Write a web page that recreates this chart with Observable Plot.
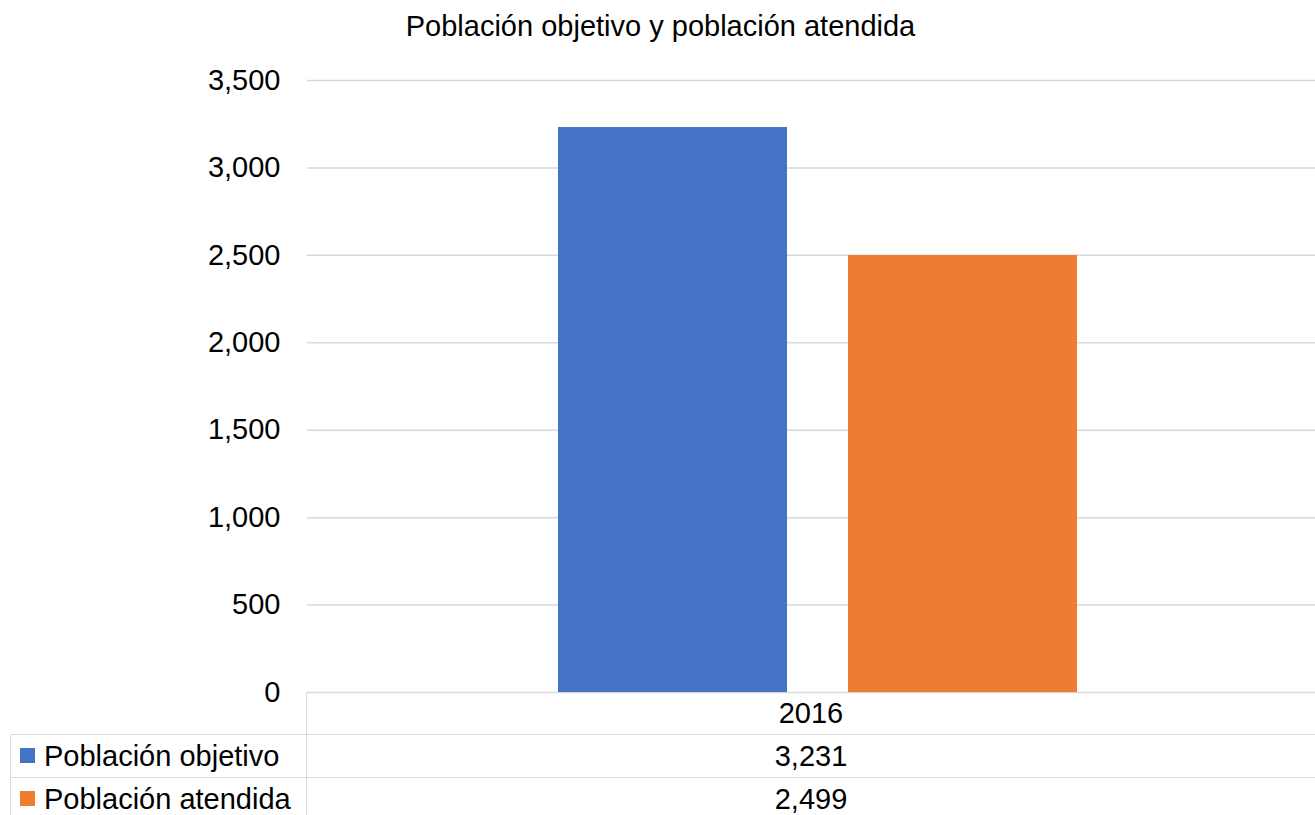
<!DOCTYPE html>
<html>
<head>
<meta charset="utf-8">
<script src="https://cdn.jsdelivr.net/npm/d3@7"></script>
<script src="https://cdn.jsdelivr.net/npm/@observablehq/plot@0.6"></script>
<style>
  html, body { margin: 0; padding: 0; background: #fff; }
  #wrap { position: relative; width: 1315px; height: 815px; overflow: hidden; font-family: "Liberation Sans", Arial, sans-serif; }
  #title { position: relative; height: 60px; }
  #title span { position: absolute; left: 0; width: 1321px; top: 12px; text-align: center; font-size: 29px; line-height: 29px; color: #000; }
  .row { position: absolute; height: 43px; line-height: 43px; font-size: 29px; color: #000; white-space: nowrap; }
  .hline { position: absolute; height: 0; border-top: 1.5px solid #d9d9d9; }
  .vline { position: absolute; width: 0; border-left: 1.5px solid #d9d9d9; }
  .key { position: absolute; width: 15px; height: 15px; }
</style>
</head>
<body>
<div id="wrap">
  <div id="title"><span>Población objetivo y población atendida</span></div>
  <div id="chart"></div>
</div>
<script>
// ---- data ----
const years = ["2016"];
const series = ["Población objetivo", "Población atendida"];
const values2016 = [3231, 2499];
const colors = ["#4472C4", "#ED7D31"];
const yTicks = [0, 500, 1000, 1500, 2000, 2500, 3000, 3500];

const data = series.map((s, i) => ({year: years[0], serie: s, valor: values2016[i]}));
const fmt = d3.format(",");

const plot = Plot.plot({
  width: 1315,
  height: 755,
  marginTop: 20,
  marginBottom: 123,
  marginLeft: 307,
  marginRight: 0,
  style: {fontFamily: "'Liberation Sans', Arial, sans-serif", fontSize: "29px", color: "#000", background: "#fff"},
  x: {domain: series, paddingInner: 0.2096, paddingOuter: 0.8368, align: 0.5133, axis: null},
  y: {domain: [0, 3500], ticks: yTicks, label: null},
  color: {domain: series, range: colors},
  marks: [
    Plot.gridY(yTicks, {stroke: "#d9d9d9", strokeOpacity: 1, strokeWidth: 1.5}),
    Plot.barY(data, {x: "serie", y: "valor", fill: "serie"}),
    Plot.axisY(yTicks, {tickSize: 0, tickPadding: 27, tickFormat: fmt, fill: "#000", label: null})
  ]
});
document.getElementById("chart").appendChild(plot);

// ---- data table under the chart (Excel-style) ----
const wrap = document.getElementById("wrap");
const x0 = 307, x1 = 1315, leftX = 11, rowTop = 692, rowH = 43;
function el(cls, css, text) {
  const d = document.createElement("div");
  d.className = cls;
  Object.assign(d.style, css);
  if (text != null) d.textContent = text;
  wrap.appendChild(d);
  return d;
}
// header row (year)
el("row", {left: x0 + "px", width: (x1 - x0) + "px", top: rowTop + "px", textAlign: "center"}, years[0]);
// series rows
series.forEach((s, i) => {
  const top = rowTop + rowH * (i + 1);
  el("hline", {left: leftX + "px", width: (x1 - leftX) + "px", top: (top - 0.75) + "px"});
  el("key", {left: "20px", top: (top + 13) + "px", background: colors[i]});
  el("row", {left: "44px", top: top + "px"}, s);
  el("row", {left: x0 + "px", width: (x1 - x0) + "px", top: top + "px", textAlign: "center"}, fmt(values2016[i]));
});
el("vline", {left: (x0 - 0.75) + "px", top: rowTop + "px", height: (815 - rowTop) + "px"});
el("vline", {left: (leftX - 0.75) + "px", top: (rowTop + rowH) + "px", height: (815 - rowTop - rowH) + "px"});
</script>
</body>
</html>
